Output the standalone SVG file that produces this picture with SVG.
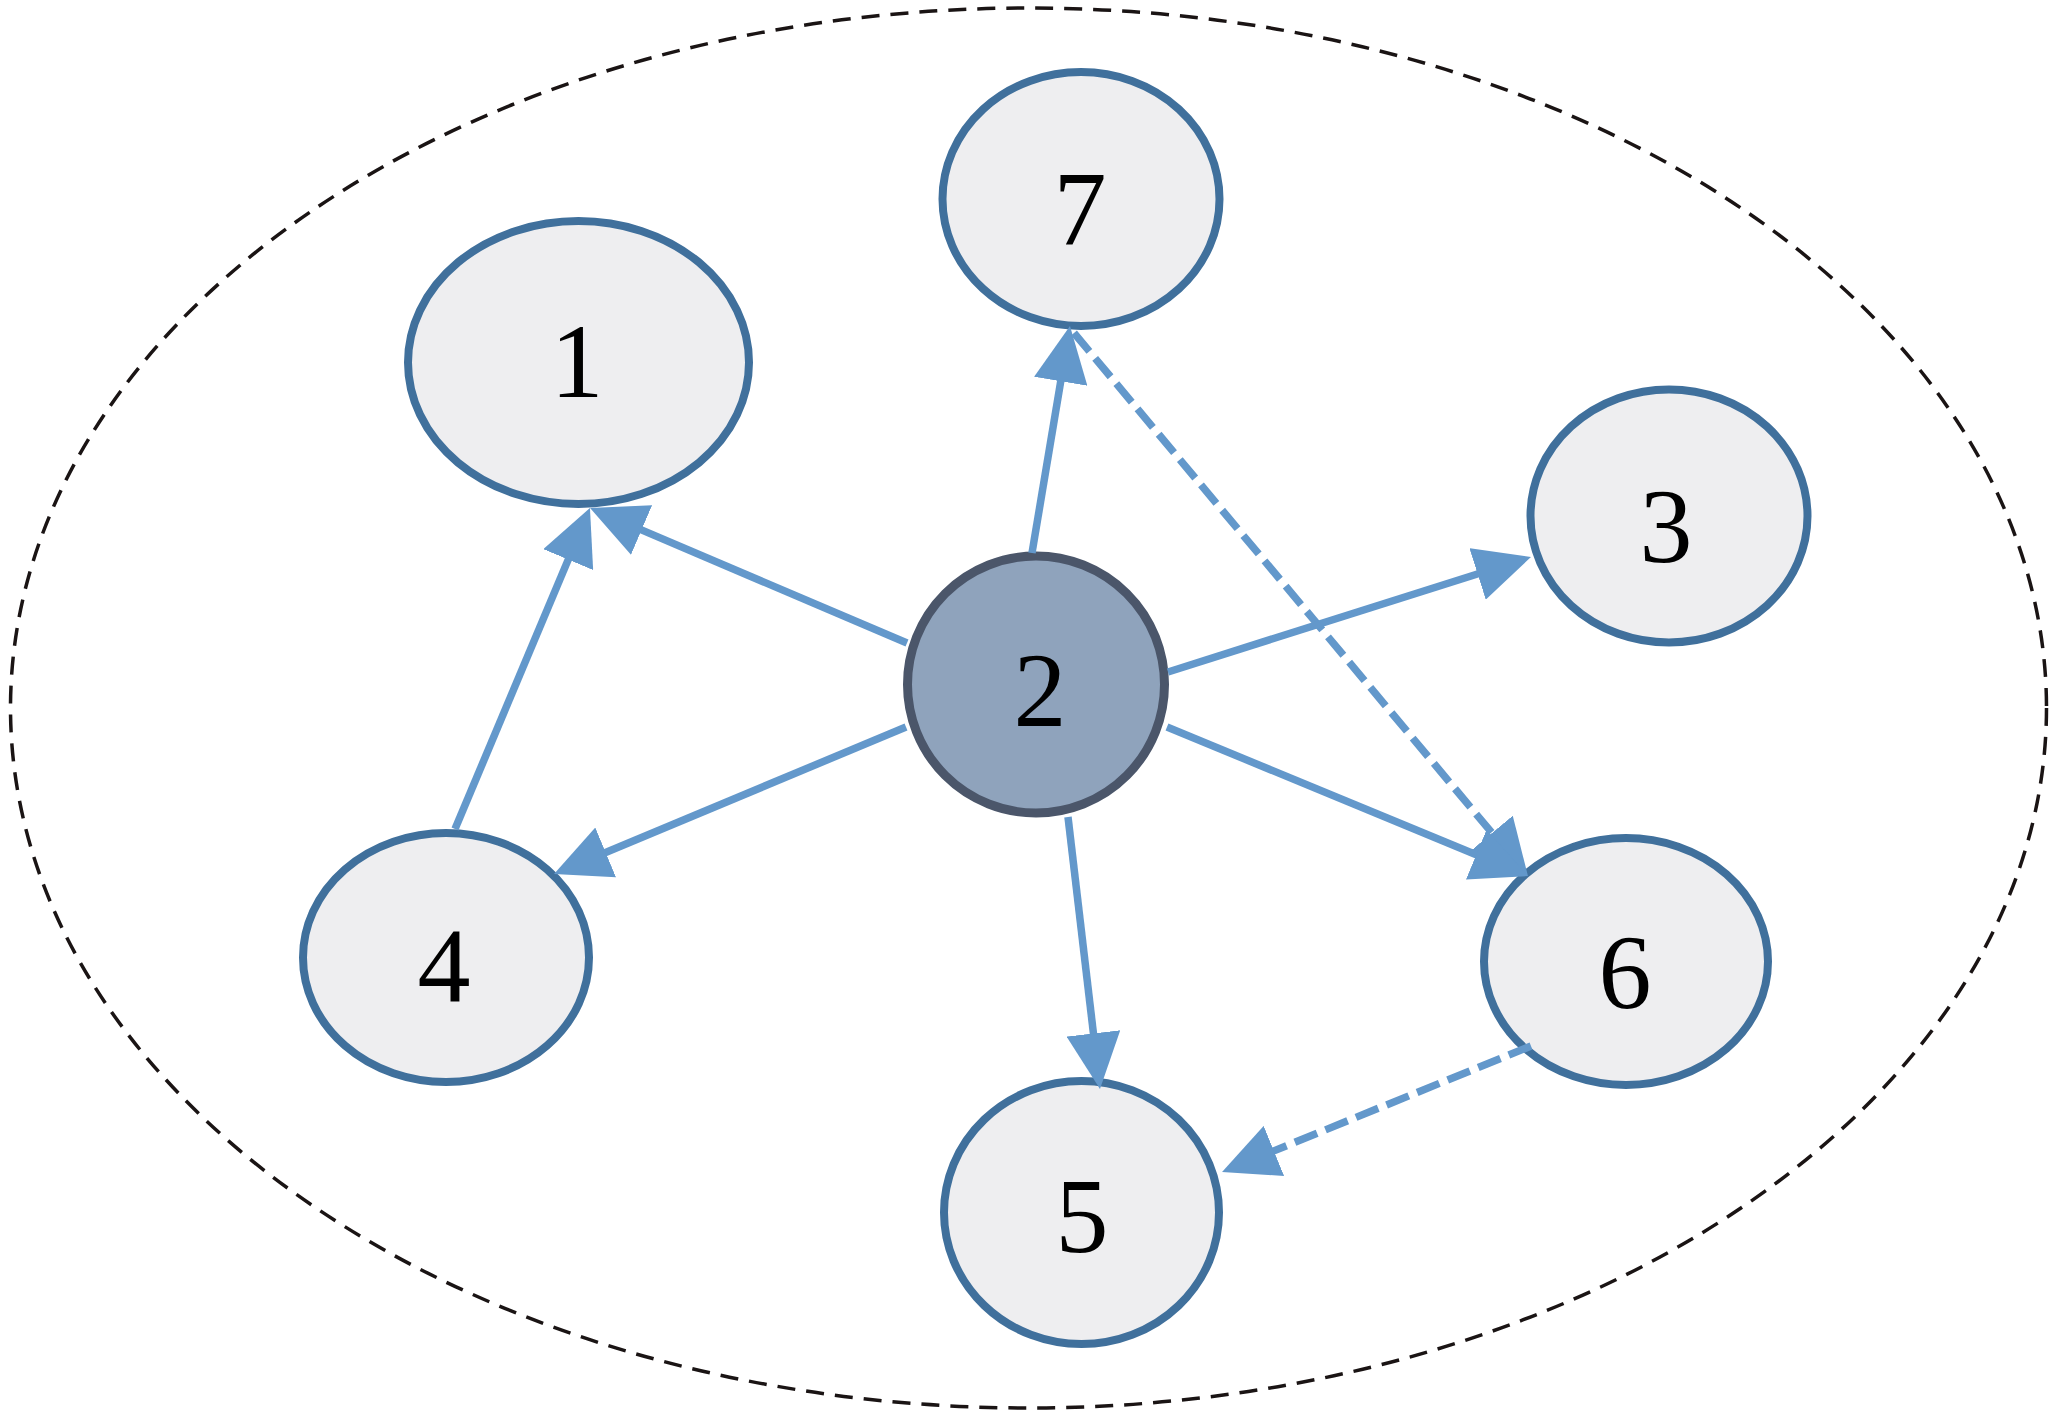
<svg xmlns="http://www.w3.org/2000/svg" width="2057" height="1417" viewBox="0 0 2057 1417">
<style>
.node{fill:#eeeef0;stroke:#40709c;stroke-width:8}
.hub{fill:#8fa3bc;stroke:#4b566a;stroke-width:9}
.lbl{font-family:"Liberation Serif","Times New Roman",serif;font-size:106px;fill:#000;text-anchor:middle}
.edge{stroke:#6398cb;stroke-width:7.5;fill:none;marker-end:url(#ah)}
.dash{stroke-dasharray:24 9}
</style>
<defs>
<marker id="ah" markerUnits="userSpaceOnUse" markerWidth="56" markerHeight="54" refX="4" refY="27" orient="auto" viewBox="0 0 56 54">
<path d="M0,0 L56,27 L0,54 Z" fill="#6398cb"/>
</marker>
</defs>
<rect width="2057" height="1417" fill="#ffffff"/>
<ellipse id="boundary" cx="1028.5" cy="708" rx="1018" ry="700" fill="none" stroke="#1a1414" stroke-width="3.5" stroke-dasharray="18 11"/>
<g id="node1"><ellipse class="node" cx="578.5" cy="362.5" rx="170.5" ry="141.5"/><text class="lbl" x="577" y="397">1</text></g>
<g id="node7"><ellipse class="node" cx="1081" cy="199" rx="138.5" ry="127"/><text class="lbl" x="1080" y="245">7</text></g>
<g id="node3"><ellipse class="node" cx="1669" cy="516" rx="138.5" ry="126.5"/><text class="lbl" x="1666" y="562">3</text></g>
<g id="node4"><ellipse class="node" cx="446" cy="957.5" rx="143" ry="124.5"/><text class="lbl" x="444" y="1001">4</text></g>
<g id="node6"><ellipse class="node" cx="1626" cy="961.5" rx="142" ry="123.5"/><text class="lbl" x="1625" y="1008">6</text></g>
<g id="node5"><ellipse class="node" cx="1081.5" cy="1212.5" rx="137.5" ry="131.5"/><text class="lbl" x="1082" y="1252">5</text></g>
<g id="node2"><circle class="hub" cx="1036" cy="684.5" r="128.5"/><text class="lbl" x="1040" y="726">2</text></g>
<g id="connectors">
<line class="edge" x1="907" y1="643" x2="637.9" y2="528.4"/>
<line class="edge" x1="455" y1="829" x2="569.8" y2="555.9"/>
<line class="edge" x1="1032" y1="553" x2="1061.4" y2="377.3"/>
<line class="edge dash" x1="1074" y1="333" x2="1494.6" y2="836.1"/>
<line class="edge" x1="1167" y1="727" x2="1479.9" y2="856.2"/>
<line class="edge" x1="1168" y1="672" x2="1481.4" y2="572.7"/>
<line class="edge" x1="906" y1="727" x2="602" y2="854"/>
<line class="edge" x1="1068" y1="817" x2="1093.9" y2="1037.4"/>
<line class="edge dash" x1="1531" y1="1046" x2="1270.2" y2="1152.4"/>
</g>
</svg>
